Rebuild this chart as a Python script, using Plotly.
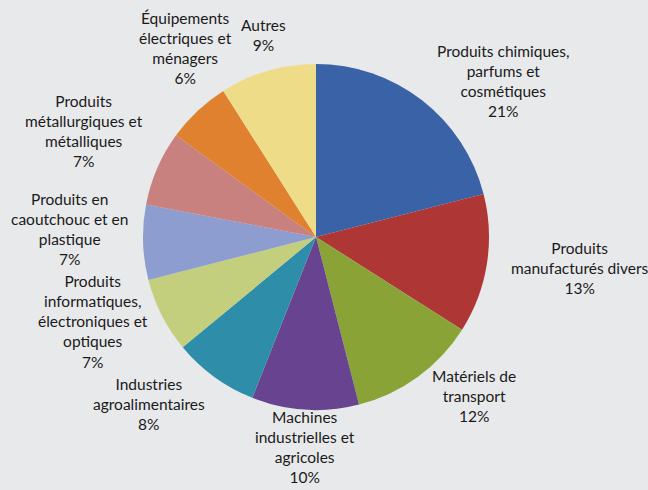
import math
import plotly.graph_objects as go

categories = [
    "Produits chimiques,<br>parfums et<br>cosmétiques",
    "Produits<br>manufacturés divers",
    "Matériels de<br>transport",
    "Machines<br>industrielles et<br>agricoles",
    "Industries<br>agroalimentaires",
    "Produits<br>informatiques,<br>électroniques et<br>optiques",
    "Produits en<br>caoutchouc et en<br>plastique",
    "Produits<br>métallurgiques et<br>métalliques",
    "Équipements<br>électriques et<br>ménagers",
    "Autres",
]
shares = [21, 13, 12, 10, 8, 7, 7, 7, 6, 9]
colors = ["#3A62A6", "#AE3634", "#8AA336", "#68438F", "#2E8EAA",
          "#C4CF7E", "#8D9DD0", "#C8817F", "#E0812F", "#EEDC88"]

W, H = 648, 490
CX, CY, R = 316, 237, 173  # pie centre / radius in pixels (layout)
FS = 15.5
LH = FS * 1.3

fig = go.Figure(go.Pie(
    labels=categories,
    values=shares,
    sort=False,
    direction="clockwise",
    rotation=0,
    marker=dict(colors=colors, line=dict(width=0)),
    textinfo="none",
    hoverinfo="label+percent",
    showlegend=False,
    domain=dict(x=[(CX - R) / W, (CX + R) / W],
                y=[(H - CY - R) / H, (H - CY + R) / H]),
))

# Outside labels along each slice's mid-angle (computed from the data),
# then a simple vertical de-overlap pass per side.
total = sum(shares)
cum = 0.0
items = []
for lab, v in zip(categories, shares):
    theta = 2 * math.pi * (cum + v / 2) / total
    cum += v
    s, c = math.sin(theta), math.cos(theta)
    text = f"{lab}<br>{v}%"
    h = (text.count("<br>") + 1) * LH
    if abs(s) < 0.3:
        xa = "center"
        side = "mid"
        if c > 0:
            gap, ya = 16, "bottom"
        else:
            gap, ya = -3, "top"
    else:
        xa = "left" if s > 0 else "right"
        side = "right" if s > 0 else "left"
        ya = "middle"
        gap = 24 if s > 0 else 15
        if s < 0 and c > 0.7:
            xa, ya = "center", "bottom"
            gap = 18
        elif s < 0 and c > 0.35:
            ya = "bottom"
    px = CX + (R + gap) * s
    py = CY - (R + gap) * c
    yc = py - h / 2 if ya == "bottom" else (py + h / 2 if ya == "top" else py)
    items.append(dict(text=text, x=px, yc=yc, h=h, xa=xa, side=side))

for side in ("left", "right"):
    grp = sorted([it for it in items if it["side"] == side], key=lambda it: it["yc"])
    for _ in range(50):
        moved = False
        for a, b in zip(grp, grp[1:]):
            ov = (a["yc"] + a["h"] / 2) - (b["yc"] - b["h"] / 2) + 2
            if ov > 0.5:
                a["yc"] -= ov / 2
                b["yc"] += ov / 2
                moved = True
        if not moved:
            break

annotations = [dict(
    x=it["x"] / W, y=1 - it["yc"] / H, xref="paper", yref="paper",
    xanchor=it["xa"], yanchor="middle", showarrow=False, align="center",
    text=it["text"], borderpad=0, borderwidth=0,
    font=dict(family="Lato, Open Sans, sans-serif", size=FS, color="#1a1a1a"),
) for it in items]

fig.update_layout(
    width=W, height=H,
    margin=dict(l=0, r=0, t=0, b=0),
    paper_bgcolor="#E8E9EB",
    plot_bgcolor="#E8E9EB",
    annotations=annotations,
)
fig.write_html("out.html", config={"displayModeBar": False},
               post_script="document.body.style.margin='0';")
